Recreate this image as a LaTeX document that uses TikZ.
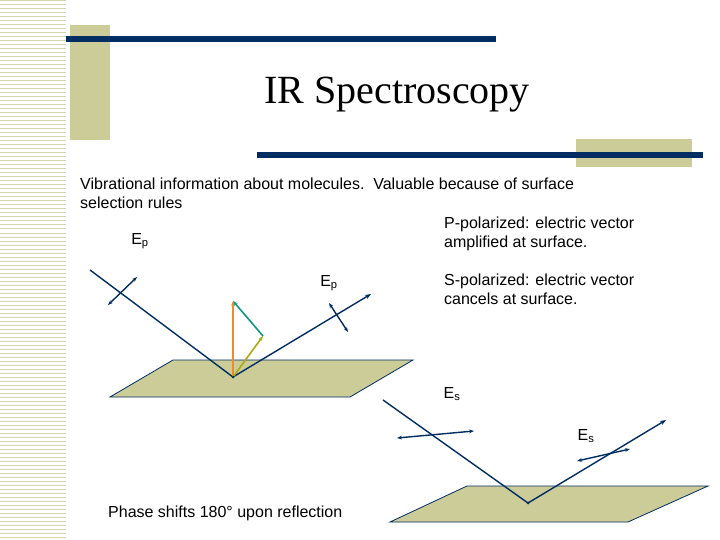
\documentclass[tikz,border=0pt]{standalone}
\usepackage{fontspec}
\setmainfont{Liberation Serif}
\newfontfamily\sans{Liberation Sans}
\usetikzlibrary{arrows.meta}
\definecolor{navy}{RGB}{0,45,98}
\definecolor{tan}{RGB}{204,204,153}
\definecolor{orng}{RGB}{240,140,40}
\definecolor{olive}{RGB}{170,170,20}
\definecolor{teal2}{RGB}{20,150,130}
\tikzset{
  ray/.style={navy,line width=1.4pt},
  pol/.style={navy,line width=1.4pt,{Stealth[length=5pt]}-{Stealth[length=5pt]}},
  vec/.style={line width=1.6pt,-{Stealth[length=5pt]}},
  plane/.style={fill=tan,draw=navy,line width=0.8pt},
  txt/.style={font=\sans\fontsize{16}{19}\selectfont,anchor=west,align=left,inner sep=0pt},
  lab/.style={font=\sans\fontsize{16}{19}\selectfont,inner sep=0pt}
}
\begin{document}
\begin{tikzpicture}[x=1pt,y=-1pt]
\useasboundingbox (0,0) rectangle (720,540);
\fill[white] (0,0) rectangle (720,540);
\foreach \y in {1,5,...,540} \draw[tan!80,line width=1pt] (0,\y) -- (66,\y);
\fill[tan] (70,25) rectangle (110,140);
\fill[navy] (66,36) rectangle (496,42);
\fill[tan] (576,139) rectangle (692,167);
\fill[navy] (257,152) rectangle (703,158);
\node[font=\fontsize{40}{44}\selectfont,inner sep=0pt] (title) at (397,95) {IR Spectroscopy};
\node[txt] (t1) at (80,193) {Vibrational information about molecules.\ \ Valuable because of surface\\selection rules};
\node[txt] (t2) at (444,234) {P-polarized: electric vector\\amplified at surface.};
\node[txt] (t3) at (444,289) {S-polarized: electric vector\\cancels at surface.};
\node[txt] (t4) at (108,513) {Phase shifts 180° upon reflection};
\node[lab] (ep1) at (140,241) {E\textsubscript{p}};
\node[lab] (ep2) at (329,283) {E\textsubscript{p}};
\node[lab] (es1) at (452,394) {E\textsubscript{s}};
\node[lab] (es2) at (586,436) {E\textsubscript{s}};
% plane 1
\draw[plane] (173,360) -- (413,360) -- (350,397) -- (110,397) -- cycle;
\coordinate (a1) at (90,270); \coordinate (o1) at (233,377); \coordinate (b1) at (371,294);
\draw[ray] (a1) -- (o1);
\draw[ray,-{Stealth[length=6pt]}] (o1) -- (b1);
\coordinate (p1a) at (108,305); \coordinate (p1b) at (137,277);
\draw[pol] (p1a) -- (p1b);
\coordinate (p2a) at (329,303); \coordinate (p2b) at (348,332);
\draw[pol] (p2a) -- (p2b);
\coordinate (v1) at (233,301); \coordinate (v2) at (263,336);
\draw[vec,orng] (o1) -- (v1);
\draw[vec,olive] (o1) -- (v2);
\draw[vec,teal2] (v2) -- (v1);
\fill[navy] (o1) circle (1.5pt);
% plane 2
\draw[plane] (467,486) -- (708,486) -- (628,522) -- (390,522) -- cycle;
\coordinate (a2) at (383,400); \coordinate (o2) at (528,503); \coordinate (b2) at (666,420);
\draw[ray] (a2) -- (o2);
\draw[ray,-{Stealth[length=6pt]}] (o2) -- (b2);
\coordinate (q1a) at (397,438); \coordinate (q1b) at (474,431);
\draw[pol] (q1a) -- (q1b);
\coordinate (q2a) at (577,461); \coordinate (q2b) at (630,449);
\draw[pol] (q2a) -- (q2b);
\fill[navy] (o2) circle (1.5pt);
\end{tikzpicture}
\end{document}
